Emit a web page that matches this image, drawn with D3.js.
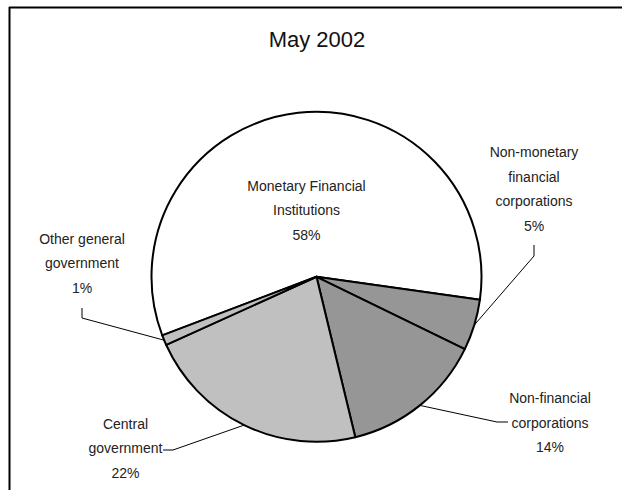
<!DOCTYPE html>
<html>
<head>
<meta charset="utf-8">
<script src="https://cdn.jsdelivr.net/npm/d3@7"></script>
<style>
  html, body { margin: 0; padding: 0; background: #fff; }
  svg { display: block; }
</style>
</head>
<body>
<svg id="chart" width="622" height="490"></svg>
<script>
// data
const categories = ["Monetary Financial Institutions", "Non-monetary financial corporations",
  "Non-financial corporations", "Central government", "Other general government"];
const shares = [58, 5, 14, 22, 1];
const labelLines = [
  ["Monetary Financial", "Institutions"],
  ["Non-monetary", "financial", "corporations"],
  ["Non-financial", "corporations"],
  ["Central", "government"],
  ["Other general", "government"]
];
const title = "May 2002";

// styling / layout
const fills = ["#ffffff", "#969696", "#969696", "#c0c0c0", "#c0c0c0"];
const cx = 316.5, cy = 276.8, radius = 165;
const lineGap = 24.6;
// label anchor (centre x, first baseline) and leader start points
const labelPos = [
  {x: 306.5, y: 190.7, leader: null},
  {x: 534, y: 157, leader: [[534, 245], [534, 256]]},
  {x: 550, y: 403, leader: [[508, 422], [497, 422]]},
  {x: 125.5, y: 428.5, leader: [[163, 450], [173, 450]]},
  {x: 82, y: 243.5, leader: [[82, 308], [82, 318]]}
];

const svg = d3.select("#chart")
  .attr("font-family", "'Liberation Sans', Arial, sans-serif");

// frame (only top and left edges show)
svg.append("line").attr("x1", 9).attr("x2", 622).attr("y1", 7.5).attr("y2", 7.5)
  .attr("stroke", "#000").attr("stroke-width", 2);
svg.append("line").attr("x1", 9.5).attr("x2", 9.5).attr("y1", 7).attr("y2", 490)
  .attr("stroke", "#000").attr("stroke-width", 2);

svg.append("text")
  .attr("x", 317).attr("y", 47)
  .attr("text-anchor", "middle")
  .attr("font-size", 22)
  .attr("fill", "#111")
  .text(title);

const deg = Math.PI / 180;
const pie = d3.pie().sort(null).value(d => d)
  .startAngle(-110.8 * deg).endAngle(249.2 * deg);
const arcs = pie(shares);

const arc = d3.arc().innerRadius(0).outerRadius(radius);
const edgeArc = d3.arc().innerRadius(radius).outerRadius(radius);

const g = svg.append("g").attr("transform", `translate(${cx},${cy})`);

g.selectAll("path.slice")
  .data(arcs)
  .join("path")
  .attr("class", "slice")
  .attr("d", arc)
  .attr("fill", (d, i) => fills[i])
  .attr("stroke", "#000")
  .attr("stroke-width", 2)
  .attr("stroke-linejoin", "round");

// leader lines
const line = d3.line();
arcs.forEach((d, i) => {
  const p = labelPos[i];
  if (!p.leader) return;
  const [ex, ey] = edgeArc.centroid(d);
  const pts = p.leader.concat([[cx + ex, cy + ey]]);
  svg.append("path")
    .attr("d", line(pts))
    .attr("fill", "none")
    .attr("stroke", "#000")
    .attr("stroke-width", 1);
});

// labels
arcs.forEach((d, i) => {
  const p = labelPos[i];
  const lines = labelLines[i].concat([shares[i] + "%"]);
  const t = svg.append("text")
    .attr("text-anchor", "middle")
    .attr("font-size", 14)
    .attr("fill", "#222");
  lines.forEach((s, k) => {
    t.append("tspan").attr("x", p.x).attr("y", p.y + k * lineGap).text(s);
  });
});
</script>
</body>
</html>
